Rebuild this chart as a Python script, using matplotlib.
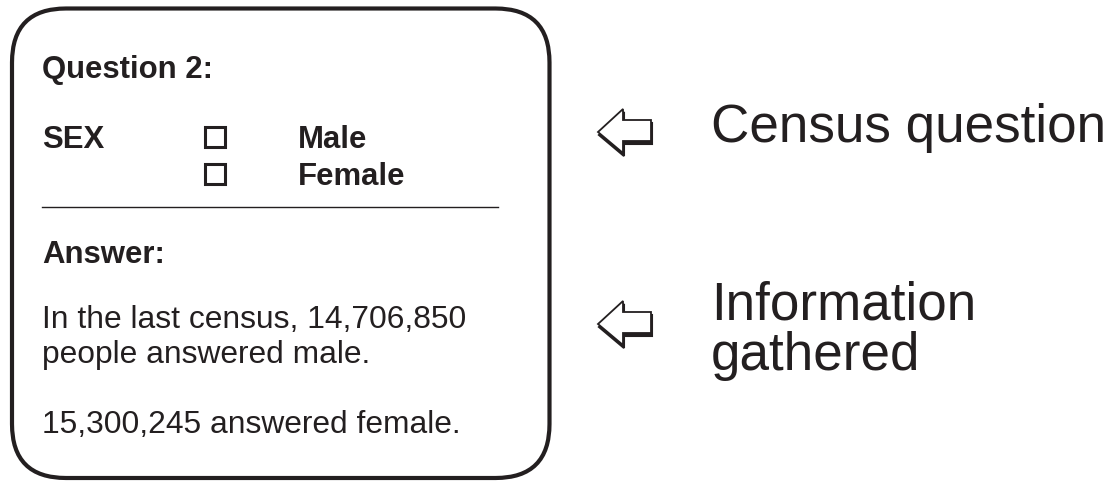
import matplotlib.pyplot as plt
from matplotlib.patches import FancyBboxPatch, Polygon

plt.rcParams['font.family'] = ['Liberation Sans', 'DejaVu Sans']

# texts of the census card
title = "Question 2:"
question = "SEX"
options = ["Male", "Female"]
answer_head = "Answer:"
answer_lines = ["In the last census, 14,706,850", "people answered male.", "15,300,245 answered female."]
labels = [["Census question"], ["Information", "gathered"]]

W, H = 1114, 485
fig = plt.figure(figsize=(W / 100, H / 100), dpi=100)
ax = fig.add_axes([0, 0, 1, 1])
ax.set_xlim(0, W)
ax.set_ylim(H, 0)
ax.axis('off')

col = '#231f20'

# rounded card
box = FancyBboxPatch((12, 9.5), 537.5, 469.5, boxstyle="round,pad=0,rounding_size=54",
                     fc='white', ec=col, lw=3)
ax.add_patch(box)

fs_b = 22.4
fs = 22.9
ax.text(42, 78, title, fontsize=fs_b, fontweight='bold', va='baseline', color=col)
ax.text(42, 148, question, fontsize=fs_b, fontweight='bold', va='baseline', color=col)
for i, opt in enumerate(options):
    y = 148 + i * 37
    ax.add_patch(plt.Rectangle((204.5, y - 20), 20, 20, fc='white', ec=col, lw=2.2))
    ax.text(298, y, opt, fontsize=fs_b, fontweight='bold', va='baseline', color=col)
ax.plot([42, 498], [208, 208], color=col, lw=1)
ax.text(42, 263, answer_head, fontsize=fs_b, fontweight='bold', va='baseline', color=col)
for y, line in zip([328, 363, 433], answer_lines):
    ax.text(42, y, line, fontsize=fs, va='baseline', color=col)

# arrows pointing at the card, with labels
def arrow(tip_y):
    pts = [(598, 0), (623, -23), (623, -12), (651, -12), (651, 9), (623, 9), (623, 21)]
    shadow = Polygon([(x + 1, tip_y + y + 3) for x, y in pts], closed=True, fc=col, ec=col, lw=1.5)
    front = Polygon([(x, tip_y + y) for x, y in pts], closed=True, fc='white', ec=col, lw=1.3)
    ax.add_patch(shadow)
    ax.add_patch(front)

for tip, base, lines in zip([133, 325], [142, 320], labels):
    arrow(tip)
    for k, line in enumerate(lines):
        ax.text(711, base + k * 50, line, fontsize=38.2, va='baseline', color=col)

fig.savefig('out.png', dpi=100)
